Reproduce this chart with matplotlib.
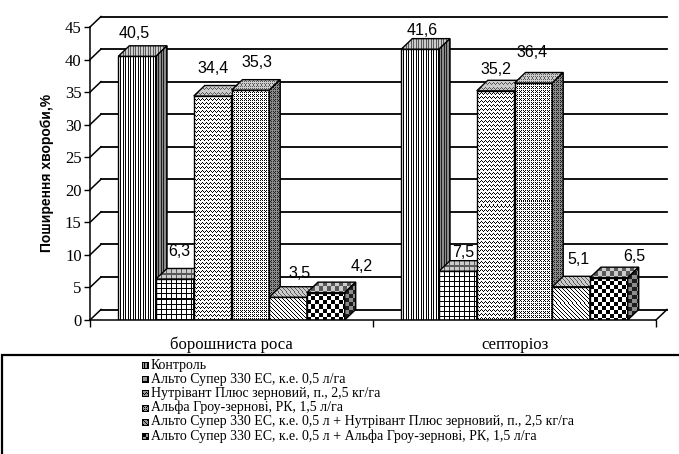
import numpy as np
import matplotlib
matplotlib.use('Agg')
import matplotlib.pyplot as plt
from matplotlib import patches, transforms

plt.rcParams['font.family'] = 'Liberation Serif'

# Data
categories = ['борошниста роса', 'септоріоз']
series_names = [
    'Контроль',
    'Альто Супер 330 ЕС, к.е. 0,5 л/га',
    'Нутрівант Плюс зерновий, п., 2,5 кг/га',
    'Альфа Гроу-зернові, РК, 1,5 л/га',
    'Альто Супер 330 ЕС, к.е. 0,5 л + Нутрівант Плюс зерновий, п., 2,5 кг/га',
    'Альто Супер 330 ЕС, к.е. 0,5 л + Альфа Гроу-зернові, РК, 1,5 л/га',
]
control = [40.5, 41.6]
alto = [6.3, 7.5]
nutrivant = [34.4, 35.2]
alfa = [35.3, 36.4]
alto_nutrivant = [3.5, 5.1]
alto_alfa = [4.2, 6.5]
values = [control, alto, nutrivant, alfa, alto_nutrivant, alto_alfa]
yticks = list(range(0, 50, 5))

# label nudges in pixels (dx from bar centre, dy above front top edge)
label_dx = [[-3, 2], [4, 5], [0, 0], [7, -1], [11, 7], [36, 25]]
label_dy = [[23, 19], [27, 19], [28, 21], [28, 30], [24, 27], [26, 21]]

patterns = ['vlines', 'grid', 'zigzag', 'dots', 'diag', 'checker']

W, H = 679, 454
DPI = 100
DX, DY = 11, 10.5   # 3d depth in pixels


def fx(px):
    return px / W


def fy(py):
    return 1 - py / H


def texture(kind, h, w):
    r, c = np.mgrid[0:h, 0:w]
    if kind == 'vlines':
        on = (c % 5 == 0) | (c % 5 == 2)
    elif kind == 'grid':
        on = (c % 5 == 0) | (r % 5 == 0)
    elif kind == 'zigzag':
        on = (r + np.abs(c % 4 - 2)) % 4 == 0
    elif kind == 'dots':
        on = ((r % 2 == 0) & (c % 2 == 0)) | ((r % 4 == 1) & (c % 4 == 1))
    elif kind == 'diag':
        on = (c - r) % 4 == 0
    else:
        on = ((r // 4) + (c // 4)) % 2 == 0
    return np.where(on, 0.0, 1.0)


fig = plt.figure(figsize=(W / DPI, H / DPI), dpi=DPI)
ax = fig.add_axes([fx(90), fy(320), (656 - 90) / W, (320 - 27) / H])
ax.set_xlim(0, 2)
ax.set_ylim(0, 45)

# pixel -> data scale
sx = 2 / (656 - 90)
sy = 45 / (320 - 27)
ddx, ddy = DX * sx, DY * sy

# walls: back gridlines, side wall diagonals, floor edge
for v in yticks:
    ax.plot([ddx, 2 + ddx], [v + ddy, v + ddy], color='black', lw=1.3,
            clip_on=False, zorder=1)
    ax.plot([0, ddx], [v, v + ddy], color='black', lw=1.1, clip_on=False, zorder=1)
ax.plot([2, 2 + ddx], [0, ddy], color='black', lw=1.1, clip_on=False, zorder=1)


def face(pts, kind, lo, hi, z):
    pts = np.array(pts)
    x0, x1 = pts[:, 0].min(), pts[:, 0].max()
    y0, y1 = pts[:, 1].min(), pts[:, 1].max()
    w = max(int(round((x1 - x0) / sx)), 1)
    h = max(int(round((y1 - y0) / sy)), 1)
    tex = lo + (hi - lo) * texture(kind, h, w)
    im = ax.imshow(tex, extent=(x0, x1, y0, y1), cmap='gray', vmin=0, vmax=1,
                   interpolation='nearest', origin='upper', aspect='auto',
                   zorder=z)
    poly = patches.Polygon(pts, closed=True, facecolor='none', edgecolor='black',
                           lw=1.0, zorder=z + 0.01)
    ax.add_patch(poly)
    im.set_clip_path(poly)


bw = 0.8 / len(values)
z = 3
for g in range(len(categories)):
    for i, vals in enumerate(values):
        v = vals[g]
        x0 = g + 0.1 + i * bw
        x1 = x0 + bw
        kind = patterns[i]
        face([(x0, 0), (x1, 0), (x1, v), (x0, v)], kind, 0.0, 1.0, z)
        face([(x0, v), (x1, v), (x1 + ddx, v + ddy), (x0 + ddx, v + ddy)],
             kind, 0.35, 0.8, z + 0.02)
        face([(x1, 0), (x1 + ddx, ddy), (x1 + ddx, v + ddy), (x1, v)],
             kind, 0.12, 0.55, z + 0.04)
        z += 0.1

        tr = transforms.offset_copy(ax.transData, fig=fig, x=label_dx[i][g],
                                    y=label_dy[i][g], units='dots')
        ax.text(x0 + bw / 2, v, f'{v:.1f}'.replace('.', ','), transform=tr,
                ha='center', va='center', family='Liberation Sans', fontsize=11.5,
                zorder=2)

ax.set_ylim(0, 45)
ax.set_xlim(0, 2)

for s in ['top', 'right']:
    ax.spines[s].set_visible(False)
for s in ['left', 'bottom']:
    ax.spines[s].set_linewidth(1.1)
    ax.spines[s].set_zorder(5)

ax.set_yticks(yticks)
ax.set_yticklabels([str(t) for t in yticks], fontsize=12)
ax.tick_params(axis='y', direction='out', length=4, width=1, pad=2)
ax.set_xticks([0.5, 1.5])
ax.set_xticklabels(categories, fontsize=12)
ax.set_xticks([0, 1, 2], minor=True)
ax.tick_params(axis='x', which='major', length=0, pad=12)
ax.tick_params(axis='x', which='minor', direction='out', length=5, width=1)

fig.text(fx(47), fy(173), 'Поширення хвороби,%', rotation=90, ha='center',
         va='center', family='Liberation Sans', fontweight='bold', fontsize=10)

# legend box
fig.add_artist(patches.Rectangle((fx(2), fy(470)), fx(700), fy(355) - fy(470),
                                 transform=fig.transFigure, facecolor='white',
                                 edgecolor='black', lw=1.6, clip_on=False))
for i, name in enumerate(series_names):
    row = 365 + i * 14.2
    mark = texture(patterns[i], 7, 7) * 0.6
    mark[0, :] = mark[-1, :] = mark[:, 0] = mark[:, -1] = 0
    fig.figimage(mark, xo=142, yo=int(H - row - 3.5), cmap='gray', vmin=0, vmax=1,
                 origin='upper', zorder=10)
    fig.text(fx(151), fy(row), name, ha='left', va='center', fontsize=10)

fig.savefig('out.png', dpi=DPI)
